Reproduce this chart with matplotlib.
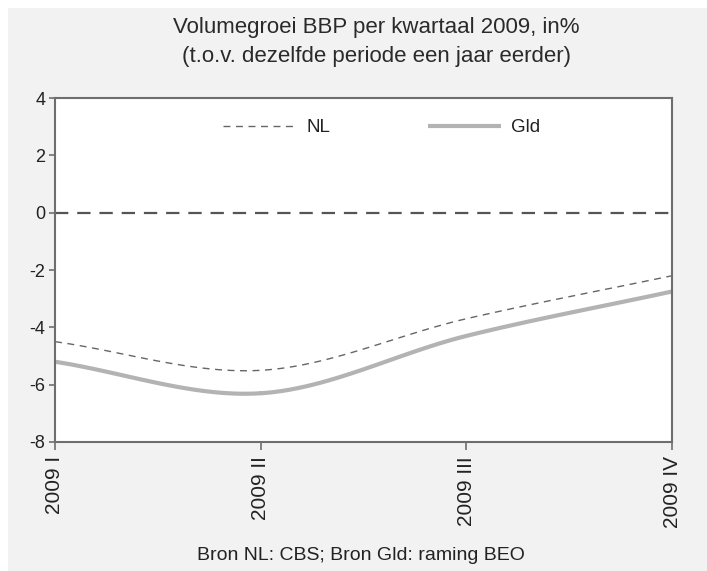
import numpy as np
import matplotlib
matplotlib.use("Agg")
import matplotlib.pyplot as plt
from matplotlib.patches import Rectangle

plt.rcParams['font.family'] = ['Liberation Sans', 'DejaVu Sans']

# Data
quarters = ["2009 I", "2009 II", "2009 III", "2009 IV"]
nl = [-4.5, -5.5, -3.7, -2.2]
gld = [-5.2, -6.3, -4.3, -2.75]
yticks = [-8, -6, -4, -2, 0, 2, 4]


def smooth(xs, ys, n=30):
    # Catmull-Rom style smoothing, like Excel's "smoothed line"
    xs = np.asarray(xs, float)
    ys = np.asarray(ys, float)
    px = np.concatenate([[2 * xs[0] - xs[1]], xs, [2 * xs[-1] - xs[-2]]])
    py = np.concatenate([[2 * ys[0] - ys[1]], ys, [2 * ys[-1] - ys[-2]]])
    outx, outy = [], []
    t = np.linspace(0, 1, n)
    for i in range(1, len(px) - 2):
        for p, out in ((px, outx), (py, outy)):
            p0, p1, p2, p3 = p[i - 1], p[i], p[i + 1], p[i + 2]
            out.extend(0.5 * ((2 * p1) + (-p0 + p2) * t
                              + (2 * p0 - 5 * p1 + 4 * p2 - p3) * t ** 2
                              + (-p0 + 3 * p1 - 3 * p2 + p3) * t ** 3))
    return np.array(outx), np.array(outy)


W, H = 707, 571
fig = plt.figure(figsize=(W / 100, H / 100), dpi=100, facecolor="white")
fig.patches.append(Rectangle((8 / W, 0), 1, 1 - 8 / H, transform=fig.transFigure,
                             facecolor="#f2f2f2", edgecolor="none", zorder=-10))

ax = fig.add_axes([55 / W, 1 - 442 / H, 617 / W, 344 / H])
ax.set_facecolor("white")

x = np.arange(len(quarters))
sx, sy = smooth(x, nl)
ax.plot(sx, sy, color="#666666", lw=1.0, dashes=(5, 4), label="NL")
sx, sy = smooth(x, gld)
ax.plot(sx, sy, color="#b3b3b3", lw=3.0, solid_capstyle="butt", label="Gld")
ax.axhline(0, color="#555555", lw=1.6, dashes=(6, 4), zorder=1)

ax.set_xlim(0, 3)
ax.set_ylim(-8, 4)
ax.set_yticks(yticks)
ax.set_yticklabels([str(v) for v in yticks])
ax.set_xticks(x)
ax.set_xticklabels(quarters, rotation=90, va="top")

for s in ax.spines.values():
    s.set_color("#6e6e6e")
    s.set_linewidth(1.5)
ax.tick_params(axis="both", colors="#6e6e6e", labelcolor="#222222",
               direction="out", width=1.2)
ax.tick_params(axis="y", length=4, pad=3, labelsize=13)
ax.tick_params(axis="x", length=6, pad=4, labelsize=15)

ax.legend(loc="center", bbox_to_anchor=(0.529, 0.913), ncol=2, frameon=False,
          fontsize=13.5, handlelength=3.9, columnspacing=5.2, handletextpad=0.55,
          labelcolor="#222222")

fig.text(376 / W, 1 - 33 / H, "Volumegroei BBP per kwartaal 2009, in%",
         ha="center", va="baseline", fontsize=16, color="#2a2a2a")
fig.text(376 / W, 1 - 62 / H, "(t.o.v. dezelfde periode een jaar eerder)",
         ha="center", va="baseline", fontsize=16, color="#2a2a2a")
fig.text(361 / W, 1 - 560 / H, "Bron NL: CBS; Bron Gld: raming BEO",
         ha="center", va="baseline", fontsize=14, color="#222222")

fig.savefig("out.png", dpi=100, facecolor=fig.get_facecolor())
